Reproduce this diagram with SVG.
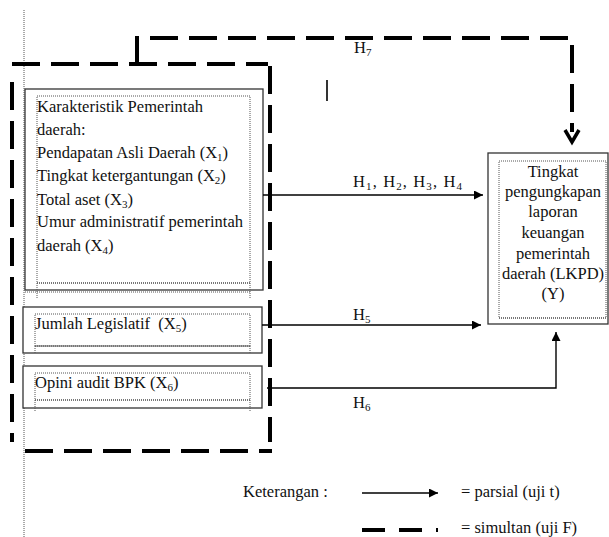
<svg xmlns="http://www.w3.org/2000/svg" width="609" height="537" viewBox="0 0 609 537">
<defs>
<style>
text{font-family:"Liberation Serif","Times New Roman",serif;font-size:16.5px;fill:#111}
.sub{font-size:11px}
.box{fill:#fff;stroke:#333;stroke-width:1.3}
.dot{fill:none;stroke:#555;stroke-width:1;stroke-dasharray:1 1}
.dotb{fill:none;stroke:#777;stroke-width:2.2;stroke-dasharray:1 1}
.dash{fill:none;stroke:#000;stroke-width:4;stroke-dasharray:28 11}
.ln{fill:none;stroke:#000;stroke-width:1.4}
</style>
<marker id="ah" viewBox="0 0 10 10" refX="10" refY="5" markerWidth="10" markerHeight="9" markerUnits="userSpaceOnUse" orient="auto">
<path d="M0,0 L10,5 L0,10 Z" fill="#000"/>
</marker>
</defs>
<rect width="609" height="537" fill="#fff"/>
<line x1="24" y1="10" x2="24" y2="537" class="dot"/>

<g id="frame">
<line x1="12" y1="64" x2="268" y2="64" class="dash"/>
<line x1="12" y1="82" x2="12" y2="442" class="dash"/>
<line x1="270" y1="66" x2="270" y2="442" class="dash"/>
<line x1="25" y1="451" x2="272" y2="451" class="dash"/>
</g>

<g id="box1">
<rect x="25" y="89" width="238" height="201" class="box"/>
<rect x="37" y="96" width="213" height="187" class="dot"/>
<line x1="37" y1="283" x2="250" y2="283" class="dotb"/>
<line x1="25" y1="292" x2="250" y2="292" class="dot"/>
<line x1="37" y1="283" x2="37" y2="298" class="dot"/>
<line x1="250" y1="283" x2="250" y2="298" class="dot"/>
<text x="37" y="112" textLength="166" lengthAdjust="spacing">Karakteristik Pemerintah</text>
<text x="37" y="135">daerah:</text>
<text x="37" y="158">Pendapatan Asli Daerah (X<tspan class="sub" dy="3">1</tspan><tspan dy="-3">)</tspan></text>
<text x="37" y="181">Tingkat ketergantungan (X<tspan class="sub" dy="3">2</tspan><tspan dy="-3">)</tspan></text>
<text x="37" y="205">Total aset (X<tspan class="sub" dy="3">3</tspan><tspan dy="-3">)</tspan></text>
<text x="37" y="227" textLength="206" lengthAdjust="spacing">Umur administratif pemerintah</text>
<text x="37" y="251">daerah (X<tspan class="sub" dy="3">4</tspan><tspan dy="-3">)</tspan></text>
</g>

<g id="box2">
<rect x="23" y="307" width="239" height="46" class="box"/>
<rect x="35" y="314" width="215" height="32" class="dot"/>
<line x1="35" y1="346" x2="250" y2="346" class="dotb"/>
<line x1="35" y1="346" x2="35" y2="353" class="dot"/>
<line x1="250" y1="346" x2="250" y2="353" class="dot"/>
<text x="35" y="329" xml:space="preserve">Jumlah Legislatif  (X<tspan class="sub" dy="3">5</tspan><tspan dy="-3">)</tspan></text>
</g>

<g id="box3">
<rect x="23" y="366" width="239" height="42" class="box"/>
<rect x="35" y="373" width="215" height="27" class="dot"/>
<line x1="35" y1="400" x2="250" y2="400" class="dotb"/>
<line x1="35" y1="400" x2="35" y2="412" class="dot"/>
<line x1="250" y1="400" x2="250" y2="412" class="dot"/>
<text x="35" y="388">Opini audit BPK (X<tspan class="sub" dy="3">6</tspan><tspan dy="-3">)</tspan></text>
</g>

<g id="boxY">
<rect x="488" y="153" width="120" height="171" class="box"/>
<rect x="499" y="161" width="107" height="157" class="dot"/>
<line x1="499" y1="318" x2="606" y2="318" class="dotb"/>
<g text-anchor="middle">
<text x="553" y="177">Tingkat</text>
<text x="553" y="197">pengungkapan</text>
<text x="553" y="217">laporan</text>
<text x="553" y="238">keuangan</text>
<text x="553" y="259">pemerintah</text>
<text x="553" y="279">daerah (LKPD)</text>
<text x="553" y="299">(Y)</text>
</g>
</g>

<g id="connectors">
<polyline points="137,64 137,38 572,38 572,132" class="dash" style="stroke-dasharray:28 11"/>
<polyline points="565,130 572,142 579,130" fill="none" stroke="#000" stroke-width="3.5"/>
<line x1="263" y1="195" x2="483" y2="195" class="ln" marker-end="url(#ah)"/>
<line x1="262" y1="325" x2="481" y2="325" class="ln" marker-end="url(#ah)"/>
<polyline points="267,388 556,388 556,332" class="ln" marker-end="url(#ah)"/>
<line x1="327" y1="80" x2="327" y2="101" stroke="#000" stroke-width="1.6"/>
</g>

<g id="labels">
<text x="354" y="53">H<tspan class="sub" dy="3">7</tspan></text>
<text x="353" y="187" textLength="109" lengthAdjust="spacing">H<tspan class="sub" dy="3">1</tspan><tspan dy="-3">, H</tspan><tspan class="sub" dy="3">2</tspan><tspan dy="-3">, H</tspan><tspan class="sub" dy="3">3</tspan><tspan dy="-3">, H</tspan><tspan class="sub" dy="3">4</tspan></text>
<text x="353" y="320">H<tspan class="sub" dy="3">5</tspan></text>
<text x="353" y="408">H<tspan class="sub" dy="3">6</tspan></text>
</g>

<g id="legend">
<text x="243" y="497">Keterangan :</text>
<line x1="362" y1="493" x2="438" y2="493" class="ln" marker-end="url(#ah)"/>
<text x="461" y="497">= parsial (uji t)</text>
<line x1="362" y1="530" x2="385" y2="530" stroke="#000" stroke-width="4"/>
<line x1="399" y1="530" x2="422" y2="530" stroke="#000" stroke-width="4"/>
<line x1="436" y1="530" x2="438" y2="530" stroke="#000" stroke-width="4"/>
<text x="461" y="533">= simultan (uji F)</text>
</g>
</svg>
